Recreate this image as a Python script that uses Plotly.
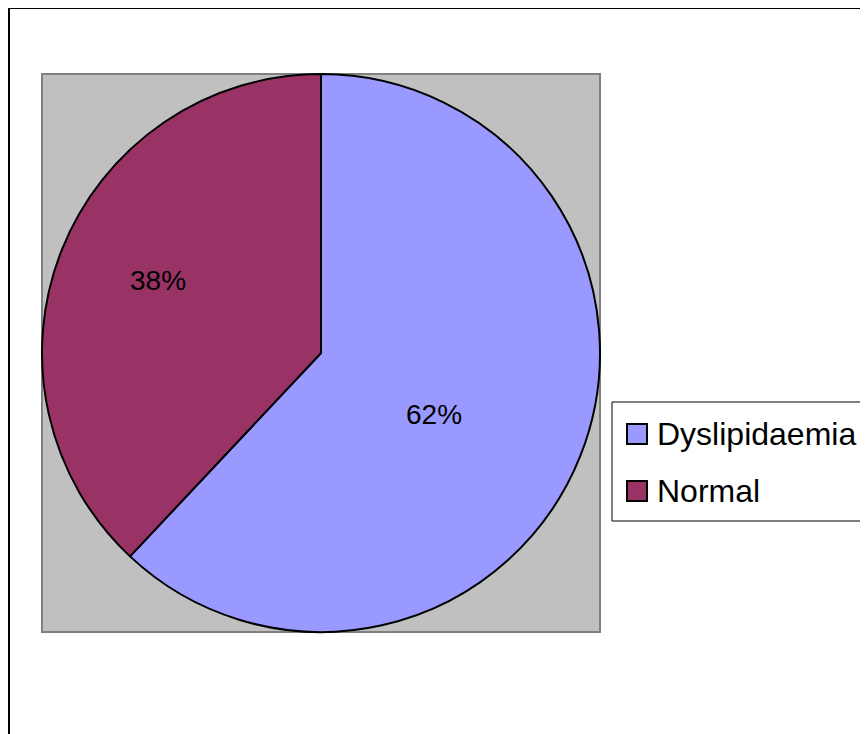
import plotly.graph_objects as go

labels = ["Dyslipidaemia", "Normal"]
values = [62, 38]
colors = ["#9999FF", "#993366"]

# figure size (page adds 8px body margin around it)
W, H = 860, 726


def px(x):
    return x / W


def py(y):
    return 1 - y / H


fig = go.Figure(go.Pie(
    labels=labels, values=values,
    marker=dict(colors=colors, line=dict(color="black", width=2)),
    sort=False, direction="clockwise", rotation=0,
    textinfo="none", showlegend=False,
    domain=dict(x=[px(34), px(592)], y=[py(624), py(66)]),
    hoverinfo="label+percent",
))

# outer chart frame and grey plot area
fig.add_shape(type="rect", xref="paper", yref="paper",
              x0=px(1), x1=1.1, y0=-0.1, y1=py(0),
              line=dict(color="black", width=2), fillcolor="rgba(0,0,0,0)", layer="below")
fig.add_shape(type="rect", xref="paper", yref="paper",
              x0=px(34), x1=px(592), y0=py(624), y1=py(66),
              line=dict(color="#808080", width=2), fillcolor="#C0C0C0", layer="below")

# percentage labels (Excel-style placement)
total = sum(values)
label_pos = [(426, 406), (150, 272)]
for v, (lx, ly) in zip(values, label_pos):
    fig.add_annotation(x=px(lx), y=py(ly), xref="paper", yref="paper",
                       xanchor="center", yanchor="middle",
                       text=f"{round(100 * v / total)}%", showarrow=False,
                       font=dict(size=28, color="black"))

# legend box
fig.add_shape(type="rect", xref="paper", yref="paper",
              x0=px(604), x1=px(858), y0=py(513), y1=py(394),
              line=dict(color="black", width=1), fillcolor="white")
for i, (lab, col) in enumerate(zip(labels, colors)):
    cy = 426 + i * 57
    fig.add_shape(type="rect", xref="paper", yref="paper",
                  x0=px(619), x1=px(639), y0=py(cy + 10), y1=py(cy - 10),
                  line=dict(color="black", width=2), fillcolor=col)
    fig.add_annotation(x=px(647), y=py(cy), xref="paper", yref="paper",
                       xanchor="left", yanchor="middle", text=lab, showarrow=False,
                       font=dict(size=32, color="black"))

fig.update_layout(
    width=W, height=H,
    margin=dict(l=0, r=0, t=0, b=0),
    paper_bgcolor="white",
    font=dict(family="Liberation Sans, Arial, sans-serif", color="black"),
    showlegend=False,
)

fig.write_html("out.html")
